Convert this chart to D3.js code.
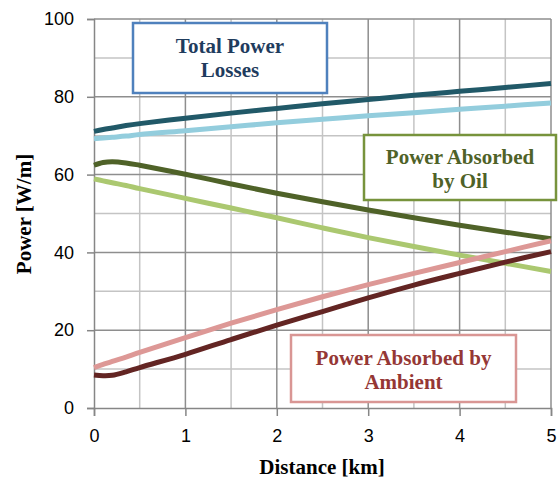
<!DOCTYPE html>
<html>
<head>
<meta charset="utf-8">
<script src="https://cdn.jsdelivr.net/npm/d3@7"></script>
<style>
  body { margin: 0; background: #fff; }
</style>
</head>
<body>
<script>
const distance = [0, 0.1, 0.2, 0.35, 0.5, 1, 1.5, 2, 2.5, 3, 3.5, 4, 4.5, 5]
const totalDark = [71.1, 71.6, 72.0, 72.6, 73.1, 74.5, 75.8, 77.0, 78.2, 79.3, 80.4, 81.4, 82.4, 83.4]
const totalLight = [69.2, 69.4, 69.6, 69.9, 70.3, 71.3, 72.3, 73.3, 74.2, 75.1, 75.9, 76.8, 77.6, 78.4]
const oilDark = [62.4, 63.1, 63.3, 63.0, 62.4, 60.1, 57.6, 55.2, 53.0, 50.9, 48.9, 47.0, 45.2, 43.5]
const oilLight = [58.9, 58.4, 57.9, 57.2, 56.4, 53.9, 51.4, 48.9, 46.3, 43.8, 41.5, 39.3, 37.2, 35.1]
const ambientLight = [10.4, 11.2, 12.0, 13.1, 14.3, 18.1, 21.8, 25.3, 28.6, 31.7, 34.6, 37.4, 40.2, 43.0]
const ambientDark = [8.5, 8.3, 8.4, 9.3, 10.4, 13.8, 17.6, 21.3, 24.8, 28.3, 31.6, 34.6, 37.5, 40.2]

const xTicks = [0, 1, 2, 3, 4, 5]
const yTicks = [0, 20, 40, 60, 80, 100]

const series = [
  { values: totalLight, color: '#93cddd' },
  { values: totalDark, color: '#215968' },
  { values: oilLight, color: '#abc870' },
  { values: oilDark, color: '#4f6228' },
  { values: ambientLight, color: '#dd9896' },
  { values: ambientDark, color: '#632523' },
]

const width = 558, height = 482
const plotLeft = 94, plotRight = 551, plotTop = 19, plotBottom = 408

const svg = d3.select('body')
  .append('svg')
  .attr('width', width)
  .attr('height', height)

const x = d3.scaleLinear().domain([0, 5]).range([plotLeft, plotRight])
const y = d3.scaleLinear().domain([0, 100]).range([plotBottom, plotTop])

// gridlines: minor first, then major
const grid = svg.append('g').attr('id', 'grid')
grid.selectAll('.vminor')
  .data(d3.range(0.5, 5, 1))
  .enter().append('line')
  .attr('x1', d => x(d)).attr('x2', d => x(d))
  .attr('y1', plotTop).attr('y2', plotBottom)
  .attr('stroke', '#c4c4c4').attr('stroke-width', 1.5)
grid.selectAll('.hminor')
  .data(d3.range(10, 100, 20))
  .enter().append('line')
  .attr('x1', plotLeft).attr('x2', plotRight)
  .attr('y1', d => y(d)).attr('y2', d => y(d))
  .attr('stroke', '#c4c4c4').attr('stroke-width', 1.5)
grid.selectAll('.vmajor')
  .data(xTicks.slice(1))
  .enter().append('line')
  .attr('x1', d => x(d)).attr('x2', d => x(d))
  .attr('y1', plotTop).attr('y2', plotBottom)
  .attr('stroke', '#8e8e8e').attr('stroke-width', 1.5)
grid.selectAll('.hmajor')
  .data(yTicks.slice(1))
  .enter().append('line')
  .attr('x1', plotLeft).attr('x2', plotRight)
  .attr('y1', d => y(d)).attr('y2', d => y(d))
  .attr('stroke', '#8e8e8e').attr('stroke-width', 1.5)

// axes
const xAxis = svg.append('g')
  .attr('transform', `translate(0,${plotBottom})`)
  .call(d3.axisBottom(x).tickValues(xTicks).tickSize(8).tickPadding(13).tickFormat(d3.format('d')))
const yAxis = svg.append('g')
  .attr('transform', `translate(${plotLeft},0)`)
  .call(d3.axisLeft(y).tickValues(yTicks).tickSize(7).tickPadding(13).tickFormat(d3.format('d')))

for (const ax of [xAxis, yAxis]) {
  ax.select('.domain').attr('stroke', '#868686').attr('stroke-width', 1.5)
  ax.selectAll('.tick line').attr('stroke', '#868686').attr('stroke-width', 1.5)
  ax.selectAll('.tick text')
    .attr('fill', '#000')
    .style('font-family', '"Liberation Sans", Arial, sans-serif')
    .style('font-size', '18px')
}

// lines
const line = d3.line()
  .x((d, i) => x(distance[i]))
  .y(d => y(d))
  .curve(d3.curveCatmullRom.alpha(0.5))

svg.append('g').attr('id', 'lines')
  .selectAll('path')
  .data(series)
  .enter().append('path')
  .attr('d', d => line(d.values))
  .attr('fill', 'none')
  .attr('stroke', d => d.color)
  .attr('stroke-width', 5)
  .attr('stroke-linecap', 'butt')

// axis titles
const serif = '"Liberation Serif", "Times New Roman", serif'
svg.append('text')
  .attr('x', 322)
  .attr('y', 474)
  .attr('text-anchor', 'middle')
  .style('font-family', serif)
  .style('font-weight', 'bold')
  .style('font-size', '21px')
  .text('Distance [km]')

svg.append('text')
  .attr('transform', 'rotate(-90)')
  .attr('x', -214)
  .attr('y', 31)
  .attr('text-anchor', 'middle')
  .style('font-family', serif)
  .style('font-weight', 'bold')
  .style('font-size', '21px')
  .text('Power [W/m]')

// labels in boxes
const boxes = [
  { x0: 133, y0: 23, x1: 327, y1: 93, border: '#4f81bd', color: '#1f3c5e', lines: ['Total Power', 'Losses'], base: 53 },
  { x0: 364, y0: 135, x1: 556, y1: 200, border: '#77933c', color: '#4f6228', lines: ['Power Absorbed', 'by Oil'], base: 164 },
  { x0: 291, y0: 335, x1: 516, y1: 402, border: '#d99694', color: '#953735', lines: ['Power Absorbed by', 'Ambient'], base: 365 },
]

const boxG = svg.append('g').attr('id', 'labels')
boxes.forEach(b => {
  boxG.append('rect')
    .attr('x', b.x0).attr('y', b.y0)
    .attr('width', b.x1 - b.x0).attr('height', b.y1 - b.y0)
    .attr('fill', '#fff')
    .attr('stroke', b.border)
    .attr('stroke-width', 2.5)
  b.lines.forEach((t, k) => {
    boxG.append('text')
      .attr('x', (b.x0 + b.x1) / 2)
      .attr('y', b.base + k * 24)
      .attr('text-anchor', 'middle')
      .attr('fill', b.color)
      .style('font-family', serif)
      .style('font-weight', 'bold')
      .style('font-size', '21px')
      .text(t)
  })
})
</script>
</body>
</html>
